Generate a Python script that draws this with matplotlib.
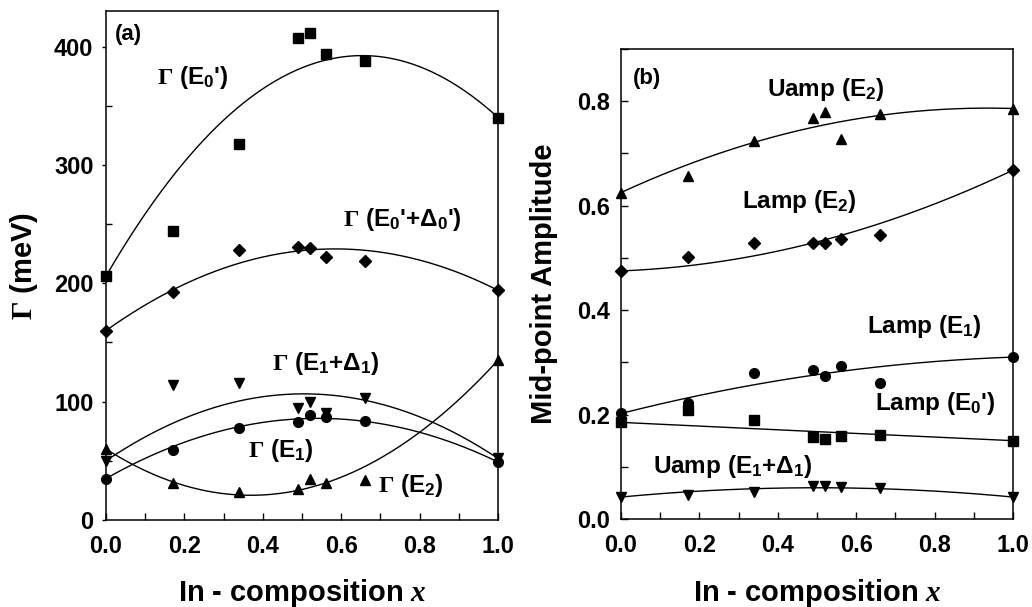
import numpy as np
import matplotlib
matplotlib.use("Agg")
import matplotlib.pyplot as plt
from matplotlib.ticker import MultipleLocator, FormatStrFormatter

plt.rcParams['font.family'] = ['Liberation Sans', 'DejaVu Sans']
plt.rcParams['font.weight'] = 'bold'
plt.rcParams['axes.labelweight'] = 'bold'
plt.rcParams['mathtext.fontset'] = 'custom'
plt.rcParams['mathtext.rm'] = 'Liberation Serif'
plt.rcParams['mathtext.it'] = 'Liberation Serif:italic'
plt.rcParams['mathtext.bf'] = 'Liberation Sans:bold'

# In composition of the samples
x_comp = [0.0, 0.17, 0.34, 0.49, 0.52, 0.56, 0.66, 1.0]

# (a) broadening parameters (meV)
gamma_e0p = [206, 244, 318, 407, 411, 394, 388, 340]
gamma_e0p_d0p = [160, 193, 228, 231, 230, 222, 219, 194]
gamma_e1_d1 = [50, 114, 116, 95, 100, 90, 103, 52]
gamma_e1 = [35, 59, 78, 83, 89, 87, 84, 49]
gamma_e2 = [60, 31, 24, 26, 35, 31, 34, 135]

# (b) mid-point amplitudes
uamp_e2 = [0.625, 0.657, 0.724, 0.767, 0.779, 0.727, 0.775, 0.786]
lamp_e2 = [0.475, 0.502, 0.529, 0.529, 0.528, 0.537, 0.543, 0.668]
lamp_e1 = [0.202, 0.222, 0.280, 0.285, 0.273, 0.292, 0.260, 0.310]
lamp_e0p = [0.185, 0.208, 0.190, 0.157, 0.153, 0.158, 0.161, 0.150]
uamp_e1_d1 = [0.042, 0.046, 0.052, 0.063, 0.063, 0.061, 0.059, 0.042]


def bowing_fit(x, y, xs):
    # end points fixed, bowing parameter from least squares on the inner points
    x = np.asarray(x, float)
    y = np.asarray(y, float)
    lin = y[0] * (1 - x) + y[-1] * x
    w = x * (1 - x)
    c = np.sum((y - lin) * w) / np.sum(w * w)
    return y[0] * (1 - xs) + y[-1] * xs + c * xs * (1 - xs)


xs = np.linspace(0, 1, 300)

fig = plt.figure(figsize=(10.32, 6.07), dpi=100)
ax_a = fig.add_axes([0.1027, 0.1433, 0.3799, 0.8386])
ax_b = fig.add_axes([0.6017, 0.1450, 0.3799, 0.7743])

series_a = [
    (gamma_e0p, 's', 6.5),
    (gamma_e0p_d0p, 'D', 6),
    (gamma_e1_d1, 'v', 7),
    (gamma_e1, 'o', 7),
    (gamma_e2, '^', 7),
]
for y, m, ms in series_a:
    ax_a.plot(xs, bowing_fit(x_comp, y, xs), color='black', lw=1.0)
    ax_a.plot(x_comp, y, ls='none', marker=m, ms=ms, color='black', clip_on=False)

series_b = [
    (uamp_e2, '^', 7),
    (lamp_e2, 'D', 6),
    (lamp_e1, 'o', 7),
    (lamp_e0p, 's', 6.5),
    (uamp_e1_d1, 'v', 7),
]
for y, m, ms in series_b:
    ax_b.plot(xs, bowing_fit(x_comp, y, xs), color='black', lw=1.0)
    ax_b.plot(x_comp, y, ls='none', marker=m, ms=ms, color='black', clip_on=False)

fs_txt = 17.5
ax_a.text(0.023, 0.953, '(a)', transform=ax_a.transAxes, fontsize=16, va='center')
ax_a.text(0.13, 374, r"$\Gamma$ (E$_\mathbf{0}$')", fontsize=fs_txt, va='center')
ax_a.text(0.605, 254, r"$\Gamma$ (E$_\mathbf{0}$'+Δ$_\mathbf{0}$')", fontsize=fs_txt, va='center')
ax_a.text(0.423, 132, r"$\Gamma$ (E$_\mathbf{1}$+Δ$_\mathbf{1}$)", fontsize=fs_txt, va='center')
ax_a.text(0.363, 59, r"$\Gamma$ (E$_\mathbf{1}$)", fontsize=fs_txt, va='center')
ax_a.text(0.694, 29, r"$\Gamma$ (E$_\mathbf{2}$)", fontsize=fs_txt, va='center')

ax_b.text(0.031, 0.938, '(b)', transform=ax_b.transAxes, fontsize=16, va='center')
ax_b.text(0.372, 0.823, r"Uamp (E$_\mathbf{2}$)", fontsize=fs_txt, va='center')
ax_b.text(0.309, 0.608, r"Lamp (E$_\mathbf{2}$)", fontsize=fs_txt, va='center')
ax_b.text(0.628, 0.368, r"Lamp (E$_\mathbf{1}$)", fontsize=fs_txt, va='center')
ax_b.text(0.648, 0.221, r"Lamp (E$_\mathbf{0}$')", fontsize=fs_txt, va='center')
ax_b.text(0.082, 0.100, r"Uamp (E$_\mathbf{1}$+Δ$_\mathbf{1}$)", fontsize=fs_txt, va='center')

ax_a.set_xlim(0, 1.0)
ax_a.set_ylim(0, 430)
ax_b.set_xlim(0, 1.0)
ax_b.set_ylim(0, 0.9)

ax_a.yaxis.set_major_locator(MultipleLocator(100))
ax_a.yaxis.set_minor_locator(MultipleLocator(50))
ax_b.yaxis.set_major_locator(MultipleLocator(0.2))
ax_b.yaxis.set_minor_locator(MultipleLocator(0.1))
ax_b.yaxis.set_major_formatter(FormatStrFormatter('%.1f'))

for ax in (ax_a, ax_b):
    ax.xaxis.set_major_locator(MultipleLocator(0.2))
    ax.xaxis.set_minor_locator(MultipleLocator(0.1))
    ax.xaxis.set_major_formatter(FormatStrFormatter('%.1f'))
    ax.tick_params(axis='x', which='both', direction='in', length=5, width=1, labelsize=17, pad=11)
    for s in ax.spines.values():
        s.set_linewidth(1.1)
    ax.set_xlabel(r"In - composition $x$", fontsize=21)

ax_a.tick_params(axis='y', which='major', direction='out', length=3, width=1, labelsize=17, pad=6)
ax_a.tick_params(axis='y', which='minor', direction='in', length=4, width=1)
ax_b.tick_params(axis='y', which='both', direction='in', length=5, width=1, labelsize=17, pad=8)

ax_a.set_ylabel(r"$\Gamma$ (meV)", fontsize=21)
ax_b.set_ylabel("Mid-point Amplitude", fontsize=21)
ax_a.yaxis.set_label_coords(-0.168, 0.5)
ax_b.yaxis.set_label_coords(-0.16, 0.5)
ax_a.xaxis.set_label_coords(0.5, -0.112)
ax_b.xaxis.set_label_coords(0.5, -0.123)

fig.savefig('out.png', dpi=100)
